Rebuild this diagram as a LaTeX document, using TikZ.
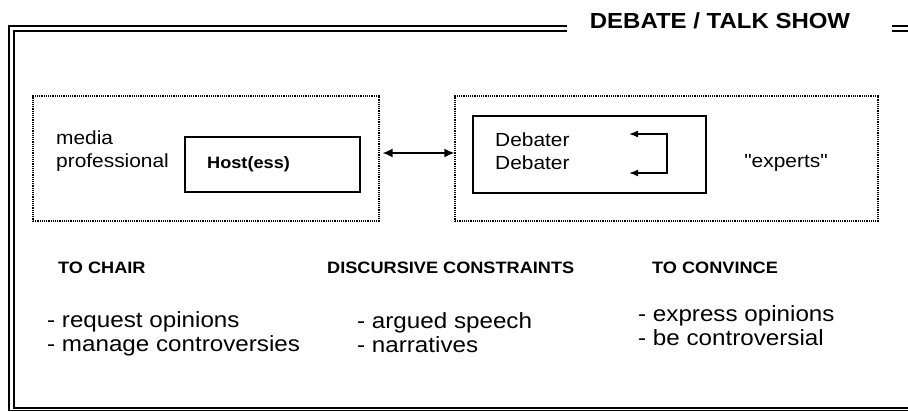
\documentclass[tikz,border=0pt]{standalone}
\usepackage{fontspec}
\setmainfont{Liberation Sans}[FakeStretch=1.1]
\newfontfamily\straightquotes{Liberation Sans}[FakeStretch=1.1]
\usetikzlibrary{positioning,arrows.meta}

\tikzset{
  zone/.style={draw, densely dotted, line width=1.2pt, inner sep=0pt},
  rolebox/.style={draw, line width=1.8pt, inner sep=0pt},
  frameline/.style={line width=1.5pt},
  boxtext/.style={inner sep=0pt, align=left, font=\fontsize{19}{23}\selectfont},
  headtext/.style={inner sep=0pt, font=\bfseries\fontsize{16.5}{18}\selectfont},
  listtext/.style={inner sep=0pt, align=left, font=\fontsize{22}{24}\selectfont},
}

\begin{document}
\begin{tikzpicture}[x=1pt, y=-1pt]
    \useasboundingbox (0,0) rectangle (908,412);

    % Outer frame
    \draw[frameline] (567,26) -- (9,26) -- (9,410.5) -- (908,410.5);
    \draw[frameline] (567,31) -- (14,31) -- (14,408) -- (908,408);
    \draw[frameline] (892,26) -- (908,26);
    \draw[frameline] (892,31) -- (908,31);
    \node[inner sep=0pt, font=\bfseries\fontsize{21.8}{24}\selectfont] (title) at (720,21) {DEBATE / TALK SHOW};

    % Host side
    \node[zone, minimum width=346pt, minimum height=125pt] (hostzone) at (206,158.5) {};
    \node[rolebox, minimum width=175pt, minimum height=55pt] (host) at (272.5,164.5) {};
    \node[inner sep=0pt, anchor=west, font=\bfseries\fontsize{16.5}{18}\selectfont] (hostname) at (207,164) {Host(ess)};
    \node[boxtext, anchor=west] (media) at (56,151) {media\\professional};

    % Debater side
    \node[zone, minimum width=423pt, minimum height=125pt] (debzone) at (666.5,158.5) {};
    \node[rolebox, minimum width=233pt, minimum height=77pt] (debaters) at (589.5,154.5) {};
    \node[boxtext, anchor=west] (debnames) at (495,151) {Debater\\Debater};
    \node[boxtext, font=\straightquotes\fontsize{19}{23}\selectfont] (experts) at (786,163) {"experts"};

    % Exchange between host and debaters
    \draw[{Latex[length=10pt,width=9pt]}-{Latex[length=10pt,width=9pt]}, line width=1.5pt]
        ([xshift=3pt,yshift=5.5pt]hostzone.east) -- ([yshift=5.5pt]debzone.west);
    \coordinate (loopa) at (629,134);
    \coordinate (loopb) at (629,173);
    \draw[{Latex[length=9pt,width=7pt]}-{Latex[length=9pt,width=7pt]}, line width=1.5pt]
        (loopa) -- ++(38,0) |- (loopb);

    % Roles and constraints
    \node[headtext, anchor=west] (chair) at (58,268) {TO CHAIR};
    \node[headtext, anchor=west] (constraints) at (327,268) {DISCURSIVE CONSTRAINTS};
    \node[headtext, anchor=west] (convince) at (652,268) {TO CONVINCE};

    \node[listtext, anchor=west] (chairlist) at (47,334) {- request opinions\\- manage controversies};
    \node[listtext, anchor=west] (constrlist) at (357,332.5) {- argued speech\\- narratives};
    \node[listtext, anchor=west] (convlist) at (638,325.5) {- express opinions\\- be controversial};
\end{tikzpicture}
\end{document}
